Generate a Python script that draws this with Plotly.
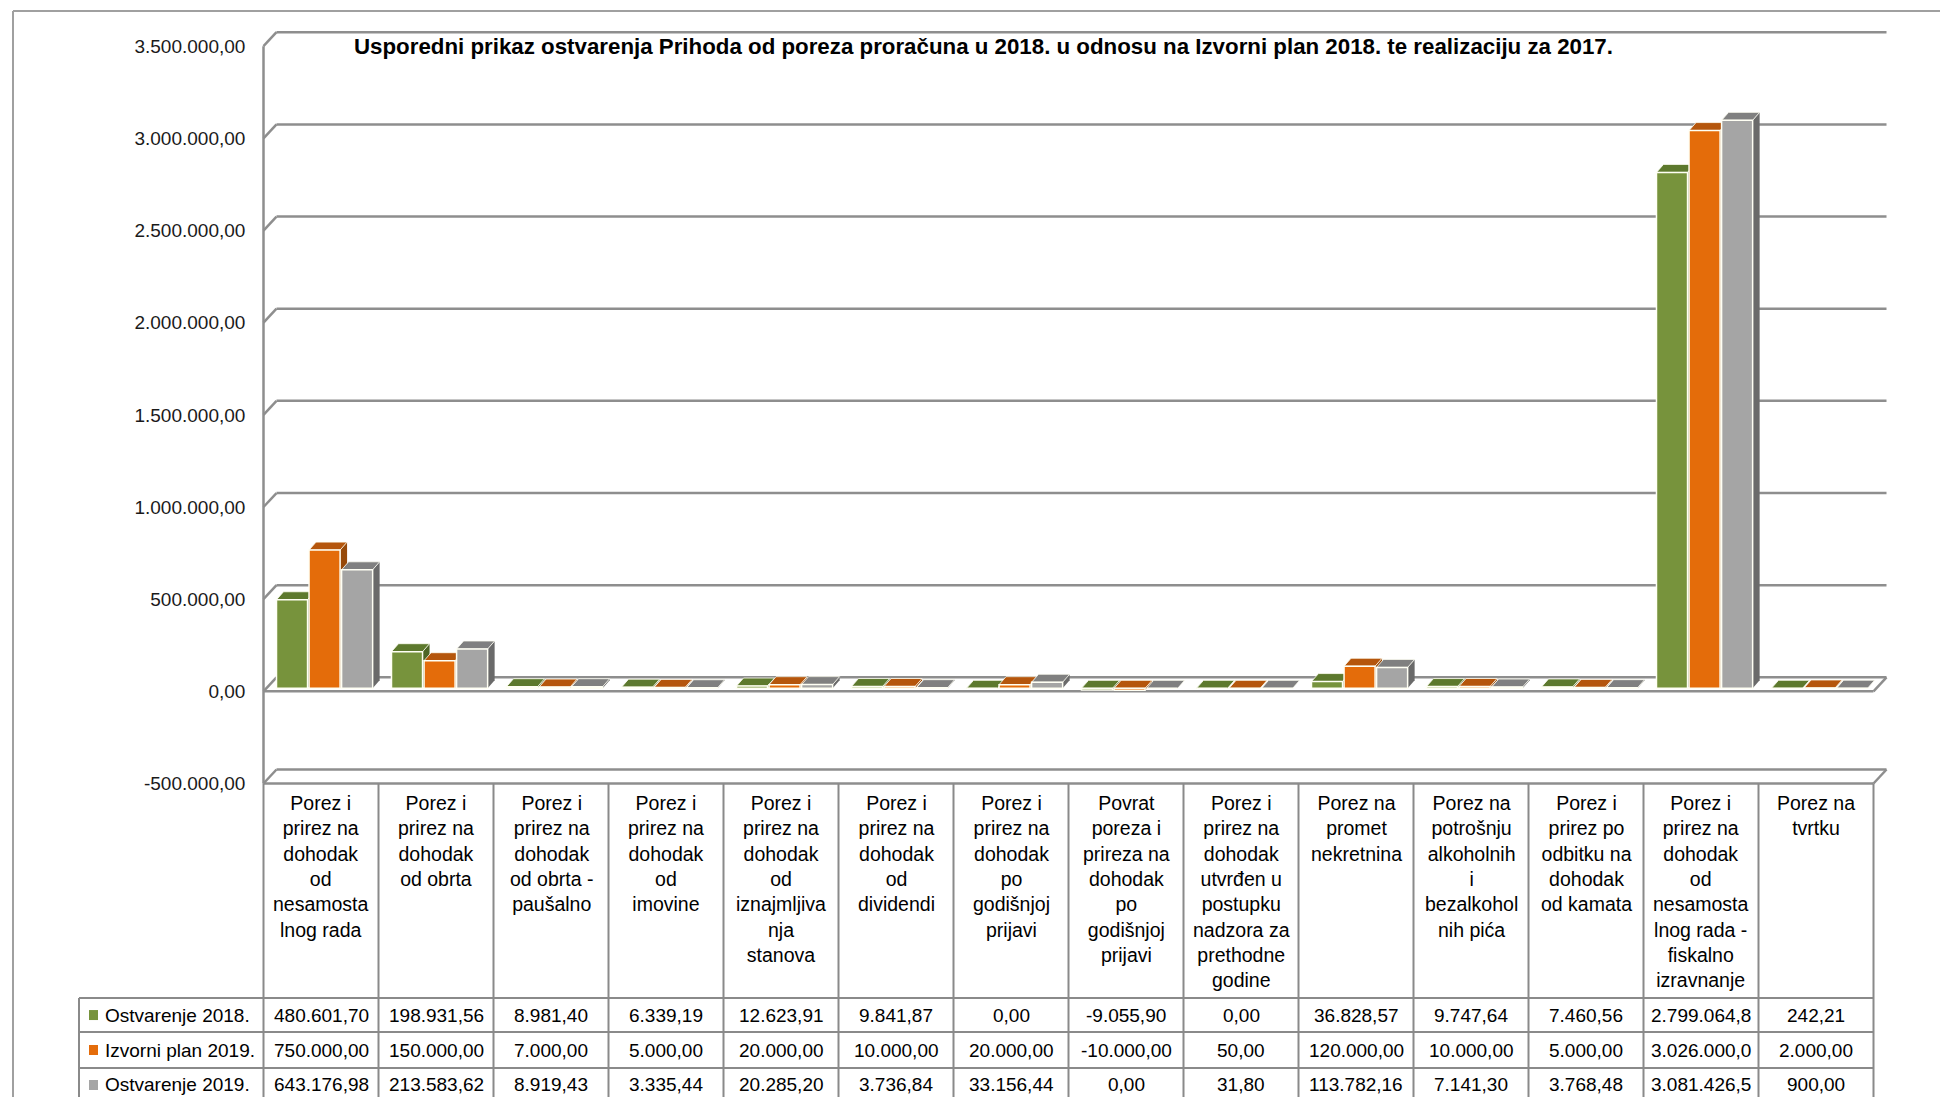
import plotly.graph_objects as go

# ---------------- data ----------------
TITLE = ("Usporedni prikaz ostvarenja Prihoda od poreza proračuna u 2018. "
         "u odnosu na Izvorni plan 2018. te realizaciju za 2017.")

CATEGORIES = [
    "Porez i\nprirez na\ndohodak\nod\nnesamosta\nlnog rada",
    "Porez i\nprirez na\ndohodak\nod obrta",
    "Porez i\nprirez na\ndohodak\nod obrta -\npaušalno",
    "Porez i\nprirez na\ndohodak\nod\nimovine",
    "Porez i\nprirez na\ndohodak\nod\niznajmljiva\nnja\nstanova",
    "Porez i\nprirez na\ndohodak\nod\ndividendi",
    "Porez i\nprirez na\ndohodak\npo\ngodišnjoj\nprijavi",
    "Povrat\nporeza i\nprireza na\ndohodak\npo\ngodišnjoj\nprijavi",
    "Porez i\nprirez na\ndohodak\nutvrđen u\npostupku\nnadzora za\nprethodne\ngodine",
    "Porez na\npromet\nnekretnina",
    "Porez na\npotrošnju\nalkoholnih\ni\nbezalkohol\nnih pića",
    "Porez i\nprirez po\nodbitku na\ndohodak\nod kamata",
    "Porez i\nprirez na\ndohodak\nod\nnesamosta\nlnog rada -\nfiskalno\nizravnanje",
    "Porez na\ntvrtku",
]

SERIES_NAMES = ["Ostvarenje 2018.", "Izvorni plan 2019.", "Ostvarenje 2019."]

OSTVARENJE_2018 = [480601.70, 198931.56, 8981.40, 6339.19, 12623.91, 9841.87, 0.00,
                   -9055.90, 0.00, 36828.57, 9747.64, 7460.56, 2799064.80, 242.21]
IZVORNI_PLAN_2019 = [750000.00, 150000.00, 7000.00, 5000.00, 20000.00, 10000.00, 20000.00,
                     -10000.00, 50.00, 120000.00, 10000.00, 5000.00, 3026000.00, 2000.00]
OSTVARENJE_2019 = [643176.98, 213583.62, 8919.43, 3335.44, 20285.20, 3736.84, 33156.44,
                   0.00, 31.80, 113782.16, 7141.30, 3768.48, 3081426.50, 900.00]

Y_TICKS = [-500000, 0, 500000, 1000000, 1500000, 2000000, 2500000, 3000000, 3500000]

SERIES = [OSTVARENJE_2018, IZVORNI_PLAN_2019, OSTVARENJE_2019]

# ---------------- style / layout ----------------
W, H = 1940, 1104
Y_FIX = 1110.0 / 1104.0
FONT = "Liberation Sans"
FRONT = ["#77933C", "#E46C0A", "#A5A5A5"]
TOPC = ["#5D792D", "#B5560C", "#808080"]
SIDEC = ["#4D6526", "#974908", "#6A6A6A"]
GRID = "#8E8E8E"
TABLE_LINE = "#8A8A8A"

COL_W = 115.0            # px per category
X_LEFT = 263.5           # page px of category boundary -0.5
Y_ZERO = 692.0           # page px of value 0 (front)
PX_PER_500K = 92.25
UY = 500000.0 / PX_PER_500K   # value units per px
UX = 1.0 / COL_W              # category units per px

XR = [-0.52, 13.65]
YR = [-520000, 3600000]


def px_x(u):
    return X_LEFT + (u + 0.5) * COL_W


def px_y(v):
    return Y_ZERO - v / UY


def PX(p):
    return p / W


def PY(p):
    return 1 - (p * Y_FIX) / H


BACK_DX = 13 * UX
BACK_DY = 14 * UY
BAR_LIFT = 3 * UY
BW = 0.27
OFFS = [-0.387, -0.104, 0.179]
DX = 7 * UX
DY = 8 * UY


def fmt(v):
    s = f"{abs(v):,.2f}".replace(",", "X").replace(".", ",").replace("X", ".")
    return ("-" if v < 0 else "") + s


fig = go.Figure()

# bars (front faces)
for s, vals in enumerate(SERIES):
    fig.add_trace(go.Bar(
        x=list(range(len(CATEGORIES))), y=vals, width=BW, offset=OFFS[s],
        yaxis="y2", name=SERIES_NAMES[s], showlegend=False,
        marker=dict(color=FRONT[s], line=dict(color="#FFFFF4", width=1.5)),
    ))

shapes = []
# back wall gridlines with left slants
for v in Y_TICKS:
    shapes.append(dict(type="line", xref="x", yref="y", layer="below",
                       x0=-0.5 + BACK_DX, x1=13.5 + BACK_DX, y0=v + BACK_DY, y1=v + BACK_DY,
                       line=dict(color=GRID, width=2.5)))
    shapes.append(dict(type="line", xref="x", yref="y", layer="below",
                       x0=-0.5, x1=-0.5 + BACK_DX, y0=v, y1=v + BACK_DY,
                       line=dict(color=GRID, width=2.5)))
# floor front edges
for v in [Y_TICKS[0], 0]:
    shapes.append(dict(type="line", xref="x", yref="y", layer="below",
                       x0=-0.5, x1=13.5, y0=v, y1=v, line=dict(color=GRID, width=2.5)))
    shapes.append(dict(type="line", xref="x", yref="y", layer="below",
                       x0=13.5, x1=13.5 + BACK_DX, y0=v, y1=v + BACK_DY,
                       line=dict(color=GRID, width=2.5)))
# vertical axis
shapes.append(dict(type="line", xref="x", yref="y", layer="below",
                   x0=-0.5, x1=-0.5, y0=Y_TICKS[0], y1=Y_TICKS[-1],
                   line=dict(color=GRID, width=2.5)))

# 3D tops and sides of bars
for i in range(len(CATEGORIES)):
    for s, vals in enumerate(SERIES):
        v = vals[i]
        top = max(v, 0)
        bot = min(v, 0)
        x0 = i + OFFS[s]
        x1 = x0 + BW
        side = (f"M {x1},{bot} L {x1},{top} L {x1 + DX},{top + DY} "
                f"L {x1 + DX},{bot + DY} Z")
        shapes.append(dict(type="path", xref="x", yref="y2", layer="below", path=side,
                           fillcolor=SIDEC[s], line=dict(width=0)))
        tp = (f"M {x0},{top} L {x1},{top} L {x1 + DX},{top + DY} "
              f"L {x0 + DX},{top + DY} Z")
        shapes.append(dict(type="path", xref="x", yref="y2", layer="below", path=tp,
                           fillcolor=TOPC[s], line=dict(color="#FFFFF4", width=0.8)))

# outer border
shapes.append(dict(type="line", xref="paper", yref="paper", x0=PX(13), x1=PX(13),
                   y0=PY(11), y1=0, line=dict(color="#A0A0A0", width=2)))
shapes.append(dict(type="line", xref="paper", yref="paper", x0=PX(13), x1=1,
                   y0=PY(11), y1=PY(11), line=dict(color="#A0A0A0", width=2)))

# data table grid
HEADER_TOP = px_y(Y_TICKS[0])
ROW_Y = [999, 1033, 1069, 1103]
LEG_X = 79
TABLE_R = px_x(13.5)
for k in range(len(CATEGORIES) + 1):
    xx = px_x(k - 0.5)
    shapes.append(dict(type="line", xref="paper", yref="paper", x0=PX(xx), x1=PX(xx),
                       y0=PY(HEADER_TOP), y1=0, line=dict(color=TABLE_LINE, width=2)))
shapes.append(dict(type="line", xref="paper", yref="paper", x0=PX(LEG_X), x1=PX(LEG_X),
                   y0=PY(ROW_Y[0]), y1=0, line=dict(color=TABLE_LINE, width=2)))
for ry in ROW_Y[:-1]:
    shapes.append(dict(type="line", xref="paper", yref="paper", x0=PX(LEG_X), x1=PX(TABLE_R),
                       y0=PY(ry), y1=PY(ry), line=dict(color=TABLE_LINE, width=2)))

annotations = []
annotations.append(dict(xref="paper", yref="paper", x=PX(983), y=PY(47), text=f"<b>{TITLE}</b>",
                        showarrow=False, xanchor="center", yanchor="middle",
                        font=dict(family=FONT, size=22.3, color="#000000")))
for i, c in enumerate(CATEGORIES):
    annotations.append(dict(xref="paper", yref="paper", x=PX(px_x(i)), y=PY(791),
                            text=c.replace("\n", "<br>"), showarrow=False,
                            xanchor="center", yanchor="top", align="center",
                            font=dict(family=FONT, size=19.5, color="#000000")))
for r, vals in enumerate(SERIES):
    cy = (ROW_Y[r] + ROW_Y[r + 1]) / 2
    shapes.append(dict(type="rect", xref="paper", yref="paper", x0=PX(89), x1=PX(98),
                       y0=PY(cy - 5), y1=PY(cy + 5), fillcolor=FRONT[r], line=dict(width=0)))
    annotations.append(dict(xref="paper", yref="paper", x=PX(103), y=PY(cy),
                            text=SERIES_NAMES[r], showarrow=False, xanchor="left",
                            yanchor="middle", font=dict(family=FONT, size=19, color="#000000")))
    for i, v in enumerate(vals):
        annotations.append(dict(xref="paper", yref="paper", x=PX(px_x(i)), y=PY(cy),
                                text=fmt(v)[:11], showarrow=False, xanchor="center",
                                yanchor="middle", font=dict(family=FONT, size=19, color="#000000")))

fig.update_layout(
    width=W, height=H, margin=dict(l=0, r=0, t=0, b=0),
    paper_bgcolor="white", plot_bgcolor="white",
    barmode="overlay", showlegend=False,
    font=dict(family=FONT, size=19, color="#1A1A1A"),
    xaxis=dict(range=XR, domain=[PX(px_x(XR[0])), PX(px_x(XR[1]))],
               showgrid=False, zeroline=False, showticklabels=False, showline=False,
               ticks=""),
    yaxis=dict(range=YR, domain=[PY(px_y(YR[0])), PY(px_y(YR[1]))],
               showgrid=False, zeroline=False, showline=False,
               tickvals=Y_TICKS, ticktext=[fmt(v) for v in Y_TICKS],
               ticks="outside", ticklen=11, tickcolor="rgba(0,0,0,0)",
               tickfont=dict(family=FONT, size=19, color="#1A1A1A")),
    yaxis2=dict(range=[YR[0] - BAR_LIFT, YR[1] - BAR_LIFT], overlaying="y", visible=False),
    shapes=shapes, annotations=annotations,
)

fig.write_html("out.html", config={"displayModeBar": False},
               post_script="document.body.style.margin='0px';document.body.style.overflow='hidden';")
